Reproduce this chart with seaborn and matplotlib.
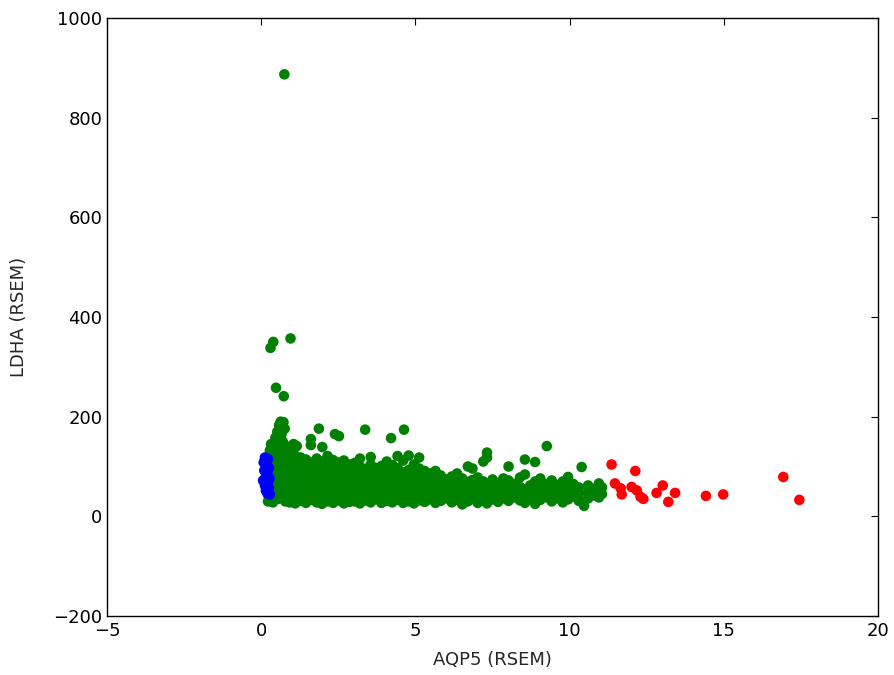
import matplotlib
matplotlib.use("Agg")
import matplotlib.pyplot as plt
import seaborn as sns
import pandas as pd

# ---- data ----
# green: bulk of samples, stored as (x-position, list of y values)
green_columns = [
    (0.22, [30]), (0.25, [38]), (0.28, [132]), (0.32, [145]), (0.38, [28]),
    (0.40, [48]), (0.42, [62]), (0.45, [78]), (0.43, [95]), (0.47, [112]), (0.41, [126]),
    (0.50, [140]), (0.46, [158]), (0.52, [170]), (0.58, [183, 88]), (0.63, [190]),
    (0.72, [189]), (0.55, [35]), (0.60, [52]), (0.62, [70, 134]), (0.65, [104]),
    (0.68, [120]), (0.70, [150]), (0.66, [165]), (0.76, [176]), (0.78, [30]),
    (0.80, [45]), (0.75, [60]), (0.82, [76]), (0.79, [92]), (0.85, [108]), (0.88, [124]),
    (0.83, [140]), (0.92, [28]), (0.95, [40]), (0.97, [57]), (0.93, [73]), (0.99, [86]),
    (1.00, [100]), (0.96, [115]), (1.02, [130]), (1.05, [145]),
    (1.10, [26, 37, 49, 63, 75, 88, 99, 112, 122]),
    (1.28, [31, 44, 56, 68, 81, 93, 106, 118]),
    (1.45, [27, 39, 52, 65, 77, 90, 101, 114]),
    (1.62, [33, 45, 58, 70, 83, 96, 108]),
    (1.80, [28, 41, 53, 66, 78, 92, 104, 116]),
    (1.97, [25, 36, 48, 61, 73, 85, 97, 110]),
    (2.15, [30, 43, 55, 69, 80, 94, 107, 121]),
    (2.33, [27, 39, 51, 64, 76, 88, 100, 113]),
    (2.50, [32, 45, 57, 70, 82, 95, 108]),
    (2.68, [26, 38, 50, 62, 75, 87, 99, 112]),
    (2.86, [29, 42, 54, 67, 79, 91, 104]),
    (3.03, [30, 43, 56, 68, 81, 94, 107]),
    (3.20, [26, 37, 50, 62, 74, 88, 100, 116]),
    (3.38, [32, 45, 57, 70, 83, 95]),
    (3.55, [28, 40, 52, 65, 77, 90, 104, 119]),
    (3.72, [34, 47, 59, 72, 85, 97]),
    (3.90, [27, 39, 51, 63, 76, 89, 101]),
    (4.07, [31, 44, 56, 69, 82, 94, 110]),
    (4.25, [28, 40, 53, 66, 78, 91, 103]),
    (4.42, [33, 46, 58, 71, 84, 97, 121]),
    (4.60, [27, 38, 50, 63, 75, 88, 112]),
    (4.78, [30, 43, 55, 68, 80, 93, 122]),
    (4.95, [26, 40, 52, 64, 77, 89, 104]),
    (5.12, [32, 45, 57, 70, 82, 96, 118]),
    (5.30, [29, 41, 53, 66, 78, 91]),
    (5.48, [34, 47, 60, 72, 86]),
    (5.65, [27, 40, 53, 65, 79, 91]),
    (5.82, [31, 44, 57, 69, 82]),
    (6.00, [36, 49, 61, 74]),
    (6.18, [28, 42, 55, 67, 80]),
    (6.35, [33, 46, 59, 71, 86]),
    (6.52, [24, 38, 51, 63, 76]),
    (6.70, [30, 43, 56, 69, 100]),
    (6.85, [35, 48, 61, 73, 96]),
    (7.02, [27, 40, 52, 65, 78]),
    (7.20, [32, 45, 58, 70, 110]),
    (7.32, [26, 38, 50, 63, 128, 118]),
    (7.50, [34, 47, 59, 74]),
    (7.68, [29, 41, 54, 67]),
    (7.85, [36, 49, 62, 76]),
    (8.02, [31, 44, 57, 100, 72]),
    (8.20, [38, 52, 65]),
    (8.39, [32, 46, 59, 78]),
    (8.55, [27, 41, 54, 114, 84]),
    (8.72, [35, 48, 62]),
    (8.88, [25, 40, 53, 70, 109]),
    (9.05, [33, 46, 60, 76]),
    (9.26, [38, 51, 65, 141]),
    (9.42, [30, 44, 57, 72]),
    (9.60, [36, 49, 63]),
    (9.78, [28, 42, 55, 70]),
    (9.95, [34, 47, 60, 79]),
    (10.12, [39, 52, 65]),
    (10.30, [31, 45, 58]),
    (10.39, [99]),
    (10.47, [21]),
    (10.60, [36, 49, 62]),
    (10.78, [42, 55]),
    (10.95, [38, 52, 66]),
    (11.05, [45, 58]),
    # scattered high values
    (0.75, [887]), (0.30, [338]), (0.39, [350]), (0.95, [357]), (0.48, [258]),
    (0.73, [241]), (1.87, [176]), (3.37, [174]), (4.63, [174]), (2.39, [165]),
    (2.52, [161]), (4.21, [157]), (1.61, [155, 143]), (1.98, [139]), (1.15, [141]),
]

blue_x = [0.12, 0.22, 0.08, 0.18, 0.25, 0.10, 0.20, 0.15, 0.27, 0.06,
          0.22, 0.12, 0.25, 0.15, 0.20, 0.28]
blue_y = [118, 115, 108, 103, 97, 92, 88, 80, 76, 72,
          68, 62, 57, 52, 46, 44]

red_x = [11.36, 11.47, 11.66, 11.69, 12.13, 12.01, 12.18, 12.30, 12.39,
         12.82, 13.02, 13.20, 13.42, 14.42, 14.98, 16.93, 17.45]
red_y = [104, 66, 56, 44, 91, 59, 52, 39, 35,
         47, 62, 29, 47, 41, 44, 79, 33]

green_x, green_y = [], []
for gx, ys in green_columns:
    for gy in ys:
        green_x.append(gx)
        green_y.append(gy)

df = pd.DataFrame({
    "x": green_x + blue_x + red_x,
    "y": green_y + blue_y + red_y,
    "group": ["mid"] * len(green_x) + ["low"] * len(blue_x) + ["high"] * len(red_x),
})

# ---- style ----
sns.set_style("white")
plt.rcParams["font.family"] = ["DejaVu Sans"]
plt.rcParams.update({
    "xtick.direction": "in", "ytick.direction": "in",
    "xtick.top": True, "ytick.right": True,
    "xtick.major.size": 5, "ytick.major.size": 5,
    "xtick.color": "black", "ytick.color": "black",
    "axes.edgecolor": "black", "axes.linewidth": 1.0,
})

fig = plt.figure(figsize=(8.95, 6.75), dpi=100)
ax = fig.add_axes([0.1196, 0.0874, 0.8614, 0.8859])

sns.scatterplot(data=df, x="x", y="y", hue="group",
                palette={"mid": "#008000", "low": "#0000ff", "high": "#ff0000"},
                s=58, linewidth=0, alpha=1.0, legend=False, ax=ax)

ax.set_xlim(-5, 20)
ax.set_ylim(-200, 1000)
ax.set_xticks([-5, 0, 5, 10, 15, 20])
ax.set_xticklabels(["\u22125", "0", "5", "10", "15", "20"])
ax.set_yticks([-200, 0, 200, 400, 600, 800, 1000])
ax.set_yticklabels(["\u2212200", "0", "200", "400", "600", "800", "1000"])
ax.tick_params(labelsize=13, width=0.8)
ax.tick_params(axis="x", pad=4)
ax.set_xlabel("AQP5 (RSEM)", fontsize=13, labelpad=8)
ax.set_ylabel("LDHA (RSEM)", fontsize=13, labelpad=18)
for sp in ax.spines.values():
    sp.set_visible(True)
    sp.set_color("black")

fig.savefig("out.png", dpi=100, facecolor="white")
